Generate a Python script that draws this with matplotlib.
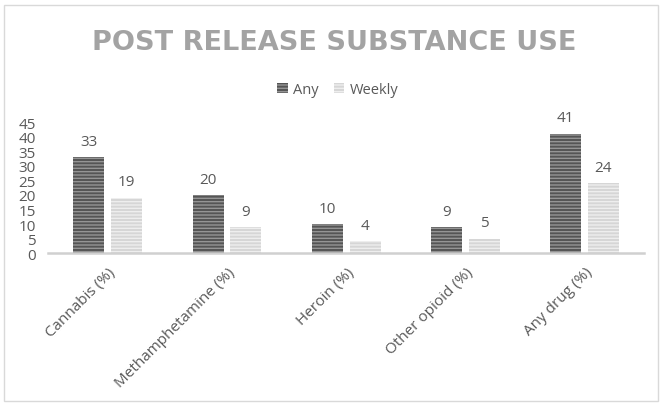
import matplotlib.pyplot as plt
import numpy as np
from matplotlib.patches import Rectangle, Patch

categories = ["Cannabis (%)", "Methamphetamine (%)", "Heroin (%)", "Other opioid (%)", "Any drug (%)"]
any_use = [33, 20, 10, 9, 41]
weekly_use = [19, 9, 4, 5, 24]

plt.rcParams['font.family'] = ['Open Sans', 'DejaVu Sans']
plt.rcParams['hatch.linewidth'] = 1.0

TEXT = "#595959"
DARK, DARK_STRIPE = "#555555", "#959595"
LIGHT, LIGHT_STRIPE = "#d6d6d6", "#eeeeee"

fig = plt.figure(figsize=(6.69, 4.06), dpi=100)
ax = fig.add_axes([0.072, 0.374, 0.891, 0.323])

x = np.arange(len(categories))
w = 0.26
off = 0.158

bars_any = ax.bar(x - off, any_use, w, color=DARK, edgecolor=DARK_STRIPE,
                  linewidth=0, hatch="-----")
bars_wk = ax.bar(x + off, weekly_use, w, color=LIGHT, edgecolor=LIGHT_STRIPE,
                 linewidth=0, hatch="-----")

for bars in (bars_any, bars_wk):
    for b in bars:
        ax.annotate(f"{int(b.get_height())}", (b.get_x() + b.get_width() / 2, b.get_height()),
                    xytext=(0, 6), textcoords="offset points", ha="center", va="bottom",
                    fontsize=11, color=TEXT)

ax.set_xlim(-0.5, len(categories) - 0.5)
ax.set_ylim(0, 45)
ax.set_yticks(range(0, 50, 5))
ax.set_xticks(x)
ax.set_xticklabels(categories, rotation=45, ha="right", rotation_mode="anchor")
ax.tick_params(axis="both", length=0, labelsize=11, colors=TEXT)
ax.tick_params(axis="y", pad=9)
ax.tick_params(axis="x", pad=8)

for s in ("top", "right", "left"):
    ax.spines[s].set_visible(False)
ax.spines["bottom"].set_color("#d0d0d0")
ax.spines["bottom"].set_linewidth(1.8)

fig.text(0.5, 0.895, "POST RELEASE SUBSTANCE USE", ha="center", va="center",
         fontsize=19.5, fontweight="bold", color="#a3a3a3", family="DejaVu Sans")

handles = [Patch(facecolor=DARK, edgecolor=DARK_STRIPE, hatch="-----", linewidth=0, label="Any"),
           Patch(facecolor=LIGHT, edgecolor=LIGHT_STRIPE, hatch="-----", linewidth=0, label="Weekly")]
fig.legend(handles=handles, loc="center", bbox_to_anchor=(0.505, 0.776), ncol=2, frameon=False,
           fontsize=10.5, labelcolor=TEXT, handlelength=0.7, handleheight=0.7,
           handletextpad=0.4, columnspacing=1.0)

fig.patches.append(Rectangle((0.006, 0.01), 0.977, 0.975, transform=fig.transFigure,
                             fill=False, edgecolor="#d9d9d9", linewidth=1))

fig.savefig("out.png", dpi=100)
